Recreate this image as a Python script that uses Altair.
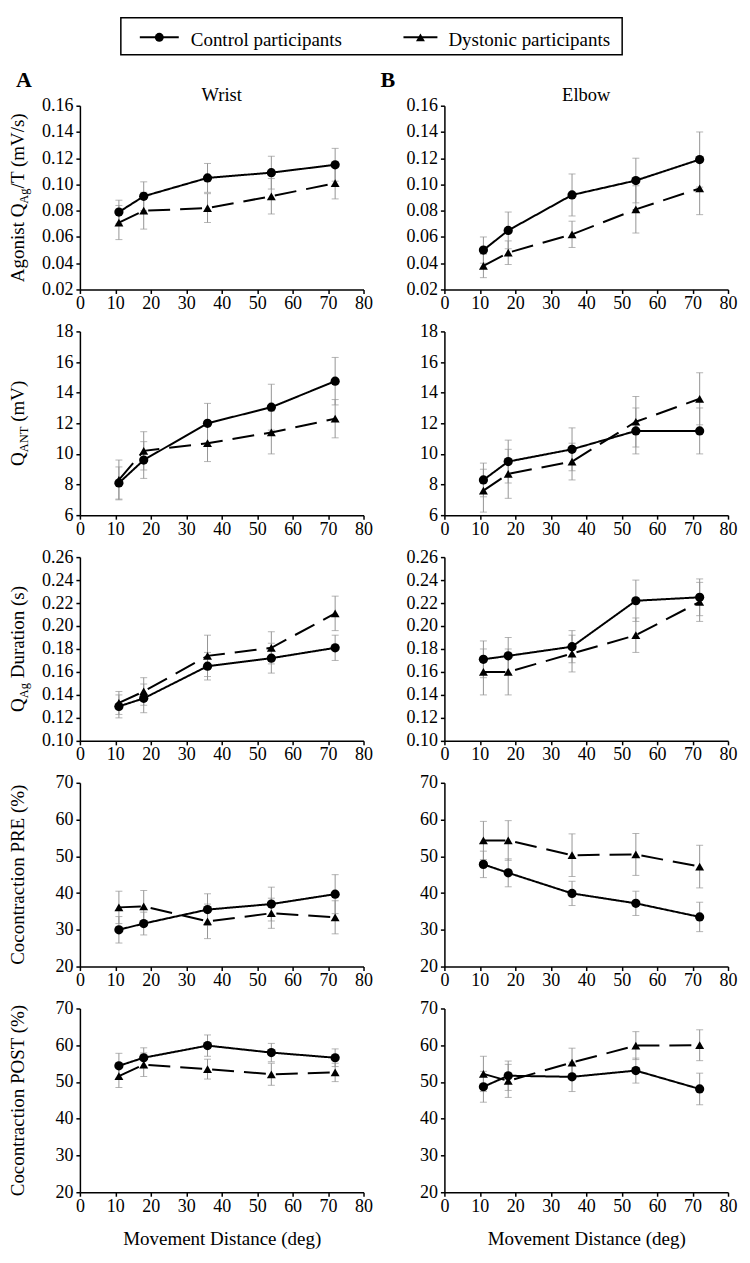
import altair as alt
import pandas as pd

# ---------------- data ----------------
x_dist = [11, 18, 36, 54, 72]
x_ticks = [0, 10, 20, 30, 40, 50, 60, 70, 80]
groups = ["Control participants", "Dystonic participants"]
joints = ["Wrist", "Elbow"]
panel_letters = ["A", "B"]

# Agonist QAg/T (mV/s)
wrist_agonist_ctrl = [0.079, 0.091, 0.105, 0.109, 0.115]
wrist_agonist_ctrl_err = [0.009, 0.011, 0.011, 0.0125, 0.0125]
wrist_agonist_dyst = [0.071, 0.080, 0.082, 0.091, 0.101]
wrist_agonist_dyst_err = [0.013, 0.014, 0.011, 0.0135, 0.012]
elbow_agonist_ctrl = [0.050, 0.065, 0.092, 0.103, 0.119]
elbow_agonist_ctrl_err = [0.010, 0.014, 0.016, 0.017, 0.021]
elbow_agonist_dyst = [0.038, 0.048, 0.062, 0.081, 0.097]
elbow_agonist_dyst_err = [0.009, 0.009, 0.010, 0.018, 0.020]

# QANT (mV)
wrist_qant_ctrl = [8.1, 9.6, 12.0, 13.05, 14.75]
wrist_qant_ctrl_err = [1.05, 1.2, 1.3, 1.5, 1.55]
wrist_qant_dyst = [8.3, 10.2, 10.7, 11.4, 12.3]
wrist_qant_dyst_err = [1.3, 1.25, 1.2, 1.4, 1.25]
elbow_qant_ctrl = [8.3, 9.5, 10.3, 11.5, 11.5]
elbow_qant_ctrl_err = [1.1, 1.4, 1.4, 1.5, 1.5]
elbow_qant_dyst = [7.6, 8.7, 9.5, 12.1, 13.6]
elbow_qant_dyst_err = [1.4, 1.6, 1.2, 1.65, 1.7]

# QAg Duration (s)
wrist_dur_ctrl = [0.130, 0.137, 0.165, 0.172, 0.181]
wrist_dur_ctrl_err = [0.010, 0.0125, 0.012, 0.013, 0.011]
wrist_dur_dyst = [0.133, 0.143, 0.174, 0.181, 0.211]
wrist_dur_dyst_err = [0.010, 0.012, 0.018, 0.014, 0.015]
elbow_dur_ctrl = [0.171, 0.174, 0.182, 0.222, 0.225]
elbow_dur_ctrl_err = [0.016, 0.016, 0.014, 0.018, 0.016]
elbow_dur_dyst = [0.160, 0.160, 0.176, 0.192, 0.221]
elbow_dur_dyst_err = [0.020, 0.020, 0.016, 0.015, 0.017]

# Cocontraction PRE (%)
wrist_pre_ctrl = [30.0, 31.7, 35.5, 37.0, 39.7]
wrist_pre_ctrl_err = [3.6, 3.1, 4.3, 4.6, 5.3]
wrist_pre_dyst = [36.1, 36.4, 32.3, 34.5, 33.4]
wrist_pre_dyst_err = [4.4, 4.3, 4.7, 4.1, 4.5]
elbow_pre_ctrl = [47.8, 45.5, 39.9, 37.2, 33.5]
elbow_pre_ctrl_err = [3.6, 3.8, 3.3, 3.3, 4.0]
elbow_pre_dyst = [54.3, 54.3, 50.3, 50.5, 47.2]
elbow_pre_dyst_err = [5.2, 5.4, 5.8, 5.7, 5.8]

# Cocontraction POST (%)
wrist_post_ctrl = [54.4, 56.6, 59.9, 58.0, 56.6]
wrist_post_ctrl_err = [3.4, 2.7, 2.9, 2.5, 2.4]
wrist_post_dyst = [51.6, 54.7, 53.5, 52.1, 52.6]
wrist_post_dyst_err = [3.1, 3.2, 2.7, 3.0, 2.5]
elbow_post_ctrl = [48.7, 51.7, 51.4, 53.1, 48.1]
elbow_post_ctrl_err = [4.2, 4.0, 4.0, 3.4, 4.3]
elbow_post_dyst = [52.2, 50.3, 55.3, 59.9, 60.0]
elbow_post_dyst_err = [4.8, 4.5, 3.9, 3.8, 4.2]

ticks_agonist = [0.02, 0.04, 0.06, 0.08, 0.10, 0.12, 0.14, 0.16]
ticks_qant = [6, 8, 10, 12, 14, 16, 18]
ticks_dur = [0.10, 0.12, 0.14, 0.16, 0.18, 0.20, 0.22, 0.24, 0.26]
ticks_pct = [20, 30, 40, 50, 60, 70]

title_agonist = [("Agonist Q", False), ("Ag", True), ("/T (mV/s)", False)]
title_qant = [("Q", False), ("ANT", True), (" (mV)", False)]
title_dur = [("Q", False), ("Ag", True), (" Duration (s)", False)]
title_pre = [("Cocontraction PRE (%)", False)]
title_post = [("Cocontraction POST (%)", False)]
x_title = "Movement Distance (deg)"

rows = [
    dict(ticks=ticks_agonist, fmt=".2f", title=title_agonist,
         data={"Wrist": (wrist_agonist_ctrl, wrist_agonist_ctrl_err, wrist_agonist_dyst, wrist_agonist_dyst_err),
               "Elbow": (elbow_agonist_ctrl, elbow_agonist_ctrl_err, elbow_agonist_dyst, elbow_agonist_dyst_err)}),
    dict(ticks=ticks_qant, fmt="d", title=title_qant,
         data={"Wrist": (wrist_qant_ctrl, wrist_qant_ctrl_err, wrist_qant_dyst, wrist_qant_dyst_err),
               "Elbow": (elbow_qant_ctrl, elbow_qant_ctrl_err, elbow_qant_dyst, elbow_qant_dyst_err)}),
    dict(ticks=ticks_dur, fmt=".2f", title=title_dur,
         data={"Wrist": (wrist_dur_ctrl, wrist_dur_ctrl_err, wrist_dur_dyst, wrist_dur_dyst_err),
               "Elbow": (elbow_dur_ctrl, elbow_dur_ctrl_err, elbow_dur_dyst, elbow_dur_dyst_err)}),
    dict(ticks=ticks_pct, fmt="d", title=title_pre,
         data={"Wrist": (wrist_pre_ctrl, wrist_pre_ctrl_err, wrist_pre_dyst, wrist_pre_dyst_err),
               "Elbow": (elbow_pre_ctrl, elbow_pre_ctrl_err, elbow_pre_dyst, elbow_pre_dyst_err)}),
    dict(ticks=ticks_pct, fmt="d", title=title_post,
         data={"Wrist": (wrist_post_ctrl, wrist_post_ctrl_err, wrist_post_dyst, wrist_post_dyst_err),
               "Elbow": (elbow_post_ctrl, elbow_post_ctrl_err, elbow_post_dyst, elbow_post_dyst_err)}),
]

# ---------------- styling ----------------
FONT = "Liberation Serif"
W, H = 284, 184
TITLE_SIZE = 19
SUB_SIZE = 12.5
TITLE_X = -56
ERR_COLOR = "#959595"

# Times / Liberation Serif advance widths (per 1000 em), used to centre the
# rotated multi-part axis titles
CHAR_W = {'A': 722, 'g': 500, 'o': 500, 'n': 500, 'i': 278, 's': 389, 't': 278,
          ' ': 250, 'Q': 722, '/': 278, 'T': 611, '(': 333, 'm': 778,
          'V': 722, ')': 333, 'N': 722, 'D': 722, 'u': 500, 'r': 333, 'a': 444,
          'C': 667, 'c': 444, 'P': 556, 'R': 667, 'E': 611, 'O': 722, 'S': 556,
          '%': 833, 'e': 444}


def text_width(s, size):
    return sum(CHAR_W.get(ch, 500) for ch in s) * size / 1000.0


def one(text):
    return pd.DataFrame({"t": [text]})


def title_layers(segs):
    sizes = [SUB_SIZE if sub else TITLE_SIZE for _, sub in segs]
    widths = [text_width(s, z) for (s, _), z in zip(segs, sizes)]
    start = H / 2 + sum(widths) / 2
    out = []
    c = 0.0
    for (s, sub), z, w in zip(segs, sizes, widths):
        body = s.lstrip(" ")
        lead = text_width(s[: len(s) - len(body)], z)  # leading blank drawn as an offset
        out.append(
            alt.Chart(one(body)).mark_text(
                angle=270, align="left", baseline="alphabetic", font=FONT,
                fontSize=z, dy=4 if sub else 0, color="black"
            ).encode(text="t:N", x=alt.value(TITLE_X), y=alt.value(start - c - lead))
        )
        c += w
    return out


# ---------------- legend (drawn above the first panel) ----------------
legend_line_x = [(60, 99), (324, 358)]
legend_text_x = [111, 369]
legend_shapes = ["circle", "triangle-up"]
LEG_TOP = -88
LEG_Y = LEG_TOP + 19.5


def legend_layers():
    out = [
        alt.Chart(one("box")).mark_rect(fillOpacity=0, stroke="black", strokeWidth=1.5).encode(
            x=alt.value(41), x2=alt.value(543), y=alt.value(LEG_TOP), y2=alt.value(LEG_TOP + 37)
        )
    ]
    for g, (lx1, lx2), tx, shp in zip(groups, legend_line_x, legend_text_x, legend_shapes):
        out.append(
            alt.Chart(one(g)).mark_rule(color="black", strokeWidth=2).encode(
                x=alt.value(lx1), x2=alt.value(lx2), y=alt.value(LEG_Y)
            )
        )
        out.append(
            alt.Chart(one(g)).mark_point(filled=True, color="black", opacity=1, shape=shp, size=80).encode(
                x=alt.value((lx1 + lx2) / 2), y=alt.value(LEG_Y)
            )
        )
        out.append(
            alt.Chart(one(g)).mark_text(font=FONT, fontSize=19, align="left", baseline="alphabetic", color="black").encode(
                text="t:N", x=alt.value(tx), y=alt.value(LEG_TOP + 28)
            )
        )
    return out


def panel(ri, ji):
    row = rows[ri]
    joint = joints[ji]
    mc, ec, md, ed = row["data"][joint]
    recs = []
    for g, means, errs in ((groups[0], mc, ec), (groups[1], md, ed)):
        for x, m, e in zip(x_dist, means, errs):
            recs.append(dict(group=g, x=x, mean=m, lo=m - e, hi=m + e))
    df = pd.DataFrame(recs)

    ticks = row["ticks"]
    yscale = alt.Scale(domain=[ticks[0], ticks[-1]], nice=False, zero=False)
    yaxis = alt.Axis(values=ticks, format=row["fmt"], title=None, labelFlush=False)
    last = ri == len(rows) - 1
    xaxis = alt.Axis(values=x_ticks, format="d", labelFlush=False,
                     title=x_title if last else None)
    xenc = alt.X("x:Q", scale=alt.Scale(domain=[0, 80], nice=False), axis=xaxis)

    base = alt.Chart(df)
    err = base.mark_errorbar(ticks=True, size=7, thickness=1, color=ERR_COLOR).encode(
        x=xenc, y=alt.Y("lo:Q", scale=yscale, axis=yaxis), y2="hi:Q"
    )
    line = base.mark_line(color="black", strokeWidth=2).encode(
        x=xenc,
        y=alt.Y("mean:Q", scale=yscale, axis=yaxis),
        strokeDash=alt.StrokeDash("group:N", scale=alt.Scale(domain=groups, range=[[1, 0], [22, 10]]), legend=None),
        detail="group:N",
    )
    pts = base.mark_point(filled=True, color="black", opacity=1).encode(
        x=xenc,
        y=alt.Y("mean:Q", scale=yscale, axis=yaxis),
        shape=alt.Shape("group:N", scale=alt.Scale(domain=groups, range=["circle", "triangle-up"]), legend=None),
        size=alt.Size("group:N", scale=alt.Scale(domain=groups, range=[85, 80]), legend=None),
    )
    layers = [err, line, pts]
    if ji == 0:
        layers += title_layers(row["title"])
    if ri == 0:
        if ji == 0:
            layers += legend_layers()
        layers.append(
            alt.Chart(one(panel_letters[ji])).mark_text(
                font=FONT, fontSize=22, fontWeight="bold", align="left",
                baseline="alphabetic", color="black"
            ).encode(text="t:N", x=alt.value(-64), y=alt.value(-19))
        )
        layers.append(
            alt.Chart(one(joint)).mark_text(
                font=FONT, fontSize=18.5, align="center", baseline="alphabetic", color="black"
            ).encode(text="t:N", x=alt.value(W / 2), y=alt.value(-5))
        )
    return alt.layer(*layers).properties(width=W, height=H)


panels = [panel(ri, ji) for ri in range(len(rows)) for ji in range(len(joints))]

chart = (
    alt.concat(*panels, columns=2, spacing={"row": 42, "column": 81}, bounds="flush")
    .properties(padding={"left": 0, "top": 8, "right": 5, "bottom": 5})
    .configure_view(stroke=None)
    .configure_axis(
        labelFont=FONT, labelFontSize=18, labelColor="black",
        domainColor="black", domainWidth=1.5, tickColor="black", tickWidth=1.5,
        tickSize=4, grid=False, titleFont=FONT, titleFontSize=19,
        titleFontWeight="normal", titleColor="black",
    )
    .configure_axisX(labelPadding=1, titlePadding=14)
    .configure_axisY(labelPadding=3)
)

chart.save("out.html", embed_options={"renderer": "svg", "actions": False})
